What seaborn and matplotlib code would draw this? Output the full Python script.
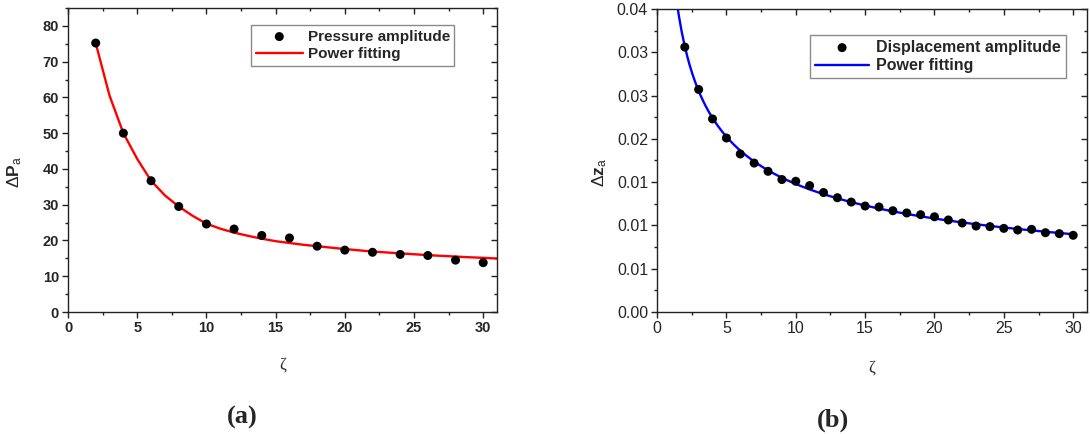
import numpy as np
import pandas as pd
import matplotlib
matplotlib.use("Agg")
import matplotlib.pyplot as plt
from matplotlib.ticker import MultipleLocator, FixedLocator, NullFormatter
import seaborn as sns

# ---- measured data -------------------------------------------------------
zeta_p = [2, 4, 6, 8, 10, 12, 14, 16, 18, 20, 22, 24, 26, 28, 30]
pressure_amp = [75.2, 50.0, 36.7, 29.5, 24.6, 23.2, 21.4, 20.7, 18.4, 17.3,
                16.7, 16.1, 15.8, 14.5, 13.8]

# power-law fit curve of the pressure amplitude, tabulated at unit steps
zeta_fit_p = list(range(2, 32))
pressure_fit = [75.2, 60.5, 50.0, 42.8, 36.7, 32.6, 29.5, 26.9, 24.7, 23.3,
                22.2, 21.3, 20.5, 19.8, 19.3, 18.8, 18.4, 18.0, 17.6, 17.25,
                16.9, 16.65, 16.4, 16.15, 15.9, 15.7, 15.5, 15.3, 15.15, 14.95]

zeta_z = list(range(2, 31))
displacement_amp = [0.0306, 0.0257, 0.0223, 0.0201, 0.01825, 0.0172, 0.01625,
                    0.0153, 0.0151, 0.0146, 0.0138, 0.0132, 0.0127, 0.01224,
                    0.01213, 0.0117, 0.01144, 0.01124, 0.0110, 0.01063, 0.01028,
                    0.00993, 0.00986, 0.00966, 0.00947, 0.00955, 0.00916,
                    0.00905, 0.00886]

disp_ticks = [0.0, 0.005, 0.010, 0.015, 0.020, 0.025, 0.030, 0.035]
disp_tick_labels = ["0.00", "0.01", "0.01", "0.01", "0.02", "0.03", "0.03", "0.04"]


# ---- power-law fit of the displacement amplitude ---------------------------
def fit_power(x, y):
    """y = a * x**b (least squares in log space)."""
    b, ln_a = np.polyfit(np.log(x), np.log(y), 1)
    return np.exp(ln_a), b


a_z, b_z = fit_power(zeta_z, displacement_amp)
xfit_z = np.linspace(1.0, 30, 300)
yfit_z = a_z * xfit_z ** b_z

df_p = pd.DataFrame({"zeta": zeta_p, "amp": pressure_amp})
df_z = pd.DataFrame({"zeta": zeta_z, "amp": displacement_amp})
fit_p = pd.DataFrame({"zeta": zeta_fit_p, "amp": pressure_fit})
fit_z = pd.DataFrame({"zeta": xfit_z, "amp": yfit_z})

# ---- style -----------------------------------------------------------------
sns.set_style("ticks")
plt.rcParams["font.family"] = ["Liberation Sans", "DejaVu Sans"]
plt.rcParams["mathtext.fontset"] = "custom"
plt.rcParams["mathtext.rm"] = "Liberation Sans"
plt.rcParams["mathtext.bf"] = "Liberation Sans:bold"
plt.rcParams["mathtext.it"] = "Liberation Sans:italic"

FRAME = "#222222"

fig = plt.figure(figsize=(10.9, 4.34), dpi=100)
ax1 = fig.add_axes([0.0624, 0.2811, 0.3936, 0.7005])
ax2 = fig.add_axes([0.6028, 0.2811, 0.3945, 0.6982])


def frame(ax, bold):
    for sp in ax.spines.values():
        sp.set_visible(True)
        sp.set_color(FRAME)
        sp.set_linewidth(1.0)
    ax.tick_params(which="both", direction="out", color=FRAME, width=1.0,
                   top=False, right=False, pad=2)
    ax.tick_params(which="major", length=4.5, labelsize=10.5 if bold else 11.5)
    ax.tick_params(which="minor", length=2.5)
    weight = "bold" if bold else "normal"
    for lab in ax.get_xticklabels() + ax.get_yticklabels():
        lab.set_fontweight(weight)
    # inward ticks on the top and right edges
    top = ax.secondary_xaxis("top")
    right = ax.secondary_yaxis("right")
    top.xaxis.set_major_locator(ax.xaxis.get_major_locator())
    top.xaxis.set_minor_locator(ax.xaxis.get_minor_locator())
    right.yaxis.set_major_locator(ax.yaxis.get_major_locator())
    right.yaxis.set_minor_locator(ax.yaxis.get_minor_locator())
    for sec in (top, right):
        sec.tick_params(which="both", direction="in", color=FRAME, width=1.0,
                        labelsize=0)
        sec.tick_params(which="major", length=4.5)
        sec.tick_params(which="minor", length=2.5)
        sec.spines[:].set_visible(False)
    top.xaxis.set_major_formatter(NullFormatter())
    right.yaxis.set_major_formatter(NullFormatter())


def legend(ax, anchor, size, handlelength, textpad):
    leg = ax.legend(loc="upper left", bbox_to_anchor=anchor, frameon=True,
                    fancybox=False, framealpha=1, edgecolor="#8a8a8a",
                    prop={"family": "Liberation Sans", "weight": "bold",
                          "size": size},
                    handlelength=handlelength, handletextpad=textpad,
                    labelspacing=0.22, borderpad=0.3, borderaxespad=0)
    leg.get_frame().set_linewidth(1.0)


# ---- (a) pressure amplitude --------------------------------------------------
sns.scatterplot(data=df_p, x="zeta", y="amp", ax=ax1, color="black", s=42,
                edgecolor="none", label="Pressure amplitude", zorder=3)
sns.lineplot(data=fit_p, x="zeta", y="amp", ax=ax1, color="#ff0000", lw=1.7,
             label="Power fitting", zorder=2)
ax1.set_xlim(0, 31)
ax1.set_ylim(0, 85)
ax1.xaxis.set_major_locator(MultipleLocator(5))
ax1.xaxis.set_minor_locator(MultipleLocator(2.5))
ax1.yaxis.set_major_locator(MultipleLocator(10))
ax1.yaxis.set_minor_locator(MultipleLocator(5))
frame(ax1, bold=True)
ax1.set_xlabel("ζ", family="Liberation Serif", fontsize=12)
ax1.set_ylabel(r"$\Delta\mathbf{P}_{\mathrm{a}}$", fontsize=12.5)
ax1.xaxis.set_label_coords(0.5, -0.145)
ax1.yaxis.set_label_coords(-0.103, 0.46)
legend(ax1, (0.4266, 0.944), 11, 3.1, 0.3)

# ---- (b) displacement amplitude ---------------------------------------------
sns.scatterplot(data=df_z, x="zeta", y="amp", ax=ax2, color="black", s=42,
                edgecolor="none", label="Displacement amplitude", zorder=3)
sns.lineplot(data=fit_z, x="zeta", y="amp", ax=ax2, color="#0000ff", lw=1.7,
             label="Power fitting", zorder=2)
ax2.set_xlim(0, 31)
ax2.set_ylim(0, 0.035)
ax2.xaxis.set_major_locator(MultipleLocator(5))
ax2.xaxis.set_minor_locator(MultipleLocator(2.5))
ax2.yaxis.set_major_locator(FixedLocator(disp_ticks))
ax2.yaxis.set_minor_locator(MultipleLocator(0.0025))
ax2.set_yticklabels(disp_tick_labels)
frame(ax2, bold=False)
ax2.set_xlabel("ζ", family="Liberation Serif", fontsize=12)
ax2.set_ylabel(r"$\Delta\mathbf{z}_{\mathrm{a}}$", fontsize=12.5)
ax2.xaxis.set_label_coords(0.50, -0.158)
ax2.yaxis.set_label_coords(-0.112, 0.459)
legend(ax2, (0.356, 0.914), 11.5, 3.4, 0.45)

fig.text(0.222, 0.039, "(a)", family="Liberation Serif", weight="bold",
         fontsize=19, ha="center", va="center")
fig.text(0.764, 0.032, "(b)", family="Liberation Serif", weight="bold",
         fontsize=19, ha="center", va="center")

fig.savefig("out.png", dpi=100)
